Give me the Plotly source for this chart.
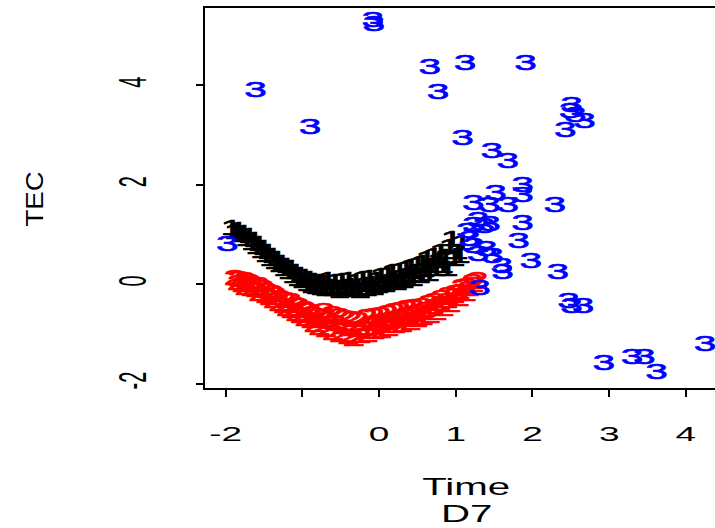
import plotly.graph_objects as go

# Group 1 (black "1")
g1_x = [-1.92, -1.88, -1.84, -1.80, -1.77, -1.73, -1.70, -1.66, -1.63, -1.60,
        -1.57, -1.54, -1.51, -1.48, -1.45, -1.42, -1.39, -1.36, -1.33, -1.30,
        -1.27, -1.24, -1.21, -1.18, -1.15, -1.12, -1.09, -1.06, -1.03, -1.00,
        -0.97, -0.94, -0.91, -0.88, -0.85, -0.82, -0.79, -0.76, -0.73, -0.70,
        -0.67, -0.64, -0.61, -0.58, -0.55, -0.52, -0.49, -0.46, -0.43, -0.40,
        -0.37, -0.34, -0.31, -0.28, -0.25, -0.22, -0.19, -0.16, -0.13, -0.10,
        -0.07, -0.04, -0.01, 0.02, 0.05, 0.08, 0.11, 0.14, 0.17, 0.20,
        0.23, 0.26, 0.29, 0.32, 0.35, 0.38, 0.41, 0.44, 0.47, 0.50,
        0.53, 0.56, 0.59, 0.62, 0.65, 0.68, 0.71, 0.74, 0.77, 0.80,
        0.83, 0.86, 0.89, 0.92, 0.95, 0.98, 1.02, 1.05, 1.08]
g1_y = [1.10, 1.02, 1.06, 0.96, 1.00, 0.88, 0.93, 0.80, 0.86, 0.72,
        0.78, 0.64, 0.70, 0.56, 0.62, 0.48, 0.54, 0.42, 0.47, 0.36,
        0.40, 0.28, 0.34, 0.22, 0.30, 0.14, 0.22, 0.08, 0.16, 0.04,
        0.12, -0.02, 0.08, -0.06, 0.04, -0.08, 0.02, -0.10, 0.00, -0.12,
        0.05, -0.08, -0.14, 0.02, -0.10, -0.16, 0.03, -0.08, -0.15, 0.06,
        -0.06, -0.14, 0.02, -0.10, -0.16, 0.08, -0.04, -0.12, 0.10, -0.02,
        -0.10, 0.06, -0.06, 0.14, 0.00, -0.04, 0.16, 0.04, 0.22, 0.08,
        0.00, 0.24, 0.12, 0.04, 0.28, 0.16, 0.32, 0.08, 0.22, 0.36,
        0.14, 0.40, 0.26, 0.48, 0.18, 0.34, 0.54, 0.28, 0.44, 0.62,
        0.34, 0.52, 0.28, 0.72, 0.88, 0.48, 0.62, 0.54, 0.80]

# Group 2 (red "2")
g2_x = [-1.88, -1.84, -1.83, -1.78, -1.75, -1.74, -1.69, -1.66, -1.65, -1.60,
        -1.57, -1.56, -1.51, -1.47, -1.46, -1.42, -1.39, -1.37, -1.35, -1.30,
        -1.29, -1.24, -1.22, -1.20, -1.15, -1.14, -1.09, -1.08, -1.05, -1.02,
        -0.97, -0.96, -0.93, -0.88, -0.87, -0.84, -0.81, -0.78, -0.73, -0.72,
        -0.69, -0.66, -0.61, -0.60, -0.57, -0.52, -0.51, -0.48, -0.45, -0.40,
        -0.39, -0.36, -0.33, -0.28, -0.27, -0.24, -0.21, -0.16, -0.15, -0.12,
        -0.07, -0.06, -0.03, 0.02, 0.03, 0.06, 0.11, 0.12, 0.15, 0.20,
        0.21, 0.26, 0.27, 0.30, 0.35, 0.36, 0.41, 0.42, 0.45, 0.50,
        0.51, 0.56, 0.57, 0.60, 0.65, 0.66, 0.71, 0.72, 0.75, 0.80,
        0.81, 0.84, 0.89, 0.90, 0.93, 0.98, 0.99, 1.04, 1.05, 1.08,
        1.13, 1.14, 1.17, 1.22, 1.23, 1.28]
g2_y = [0.10, 0.00, 0.07, -0.05, 0.05, -0.10, 0.02, -0.13, -0.03, -0.15,
        -0.05, -0.24, -0.11, -0.27, -0.17, -0.31, -0.21, -0.37, -0.25, -0.43,
        -0.31, -0.47, -0.35, -0.53, -0.38, -0.57, -0.46, -0.63, -0.47, -0.67,
        -0.53, -0.73, -0.58, -0.77, -0.63, -0.85, -0.67, -0.91, -0.69, -0.57,
        -0.95, -0.75, -0.63, -1.01, -0.81, -0.67, -1.05, -0.89, -0.71, -1.09,
        -0.93, -0.73, -1.13, -0.95, -0.75, -1.07, -0.91, -0.69, -1.05, -0.83,
        -0.67, -0.99, -0.81, -0.65, -0.97, -0.77, -0.61, -0.93, -0.75, -0.57,
        -0.87, -0.71, -0.55, -0.85, -0.67, -0.51, -0.81, -0.63, -0.49, -0.75,
        -0.59, -0.47, -0.71, -0.55, -0.41, -0.67, -0.49, -0.37, -0.61, -0.43,
        -0.31, -0.53, -0.37, -0.25, -0.45, -0.27, -0.21, -0.33, -0.19, -0.09,
        -0.23, -0.07, -0.13, 0.01, -0.05, 0.05]

# Group 3 (blue "3")
g3_x = [-0.08, -0.07, -1.61, -0.90, 0.66, 1.12, 0.77, 1.91, -1.98, 1.09,
        1.47, 1.68, 2.51, 2.49, 2.68, 2.43, 2.56, 1.87, 1.87, 1.52,
        2.29, 1.23, 1.44, 1.68, 1.87, 1.23, 1.37, 1.15, 1.44, 1.29,
        1.82, 1.23, 1.40, 1.29, 1.48, 1.98, 1.60, 2.33, 1.61, 1.31,
        2.47, 2.51, 2.66, 2.93, 3.30, 3.46, 3.62, 4.25, 1.18]
g3_y = [5.27, 5.19, 3.88, 3.12, 4.34, 4.42, 3.84, 4.42, 0.78, 2.91,
        2.65, 2.45, 3.56, 3.44, 3.24, 3.06, 3.36, 1.97, 1.77, 1.81,
        1.55, 1.59, 1.55, 1.55, 1.19, 1.15, 1.13, 1.03, 1.17, 1.25,
        0.84, 0.74, 0.68, 0.58, 0.54, 0.44, 0.34, 0.22, 0.22, -0.10,
        -0.38, -0.48, -0.48, -1.61, -1.49, -1.49, -1.79, -1.23, 0.88]

x_tickvals = [-2, -1, 0, 1, 2, 3, 4]
x_ticktext = ["-2", "", "0", "1", "2", "3", "4"]
y_tickvals = [-2, 0, 2, 4]
y_ticktext = ["-2", "0", "2", "4"]

FONT = "Liberation Sans, Arial, sans-serif"

fig = go.Figure()
for xs, ys, label, color in [(g1_x, g1_y, "1", "#000000"),
                             (g2_x, g2_y, "2", "#ff0000"),
                             (g3_x, g3_y, "3", "#0000ff")]:
    fig.add_trace(go.Scatter(
        x=xs, y=ys, mode="text", text=[label] * len(xs),
        textposition="middle center",
        textfont=dict(family=FONT, size=22, color=color),
        hoverinfo="skip", showlegend=False,
    ))

axis_common = dict(
    showgrid=False, zeroline=False, showline=True, linecolor="black",
    linewidth=2, ticks="outside", ticklen=7, tickwidth=1.5,
    tickcolor="black", tickfont=dict(family=FONT, size=20, color="black"),
)

fig.update_layout(
    width=715, height=528,
    margin=dict(l=205, r=0, t=8, b=140),
    paper_bgcolor="white", plot_bgcolor="white",
    xaxis=dict(range=[-2.27, 4.38], tickmode="array", tickvals=x_tickvals,
               ticktext=x_ticktext, mirror=True, ticklabelstandoff=20,
               **axis_common),
    yaxis=dict(range=[-2.09, 5.55], tickmode="array", tickvals=y_tickvals,
               ticktext=y_ticktext, tickangle=-90, ticklabelstandoff=48,
               **axis_common),
    annotations=[
        dict(text="TEC", xref="paper", yref="paper", x=(35 - 205) / 510,
             y=(388 - 199) / 380, xanchor="center", yanchor="middle",
             textangle=-90, showarrow=False,
             font=dict(family=FONT, size=23, color="black")),
        dict(text="Time", xref="paper", yref="paper", x=(466 - 205) / 510,
             y=(388 - 487) / 380, xanchor="center", yanchor="middle",
             showarrow=False, font=dict(family=FONT, size=23, color="black")),
        dict(text="D7", xref="paper", yref="paper", x=(466 - 205) / 510,
             y=(388 - 514) / 380, xanchor="center", yanchor="middle",
             showarrow=False, font=dict(family=FONT, size=23, color="black")),
    ],
)

# widen glyphs horizontally about their own centres; thicken point labels
stretch_js = """
var gd = document.getElementById('{plot_id}');
function widen(t, s) {
  var r = t.getBoundingClientRect();
  var cx = r.left + r.width / 2, cy = r.top + r.height / 2;
  var m = t.parentNode.getScreenCTM().inverse();
  var px = m.a * cx + m.c * cy + m.e;
  var old = t.getAttribute('transform') || '';
  t.setAttribute('transform', 'translate(' + px + ',0) scale(' + s + ',1) translate(' + (-px) + ',0) ' + old);
}
gd.querySelectorAll('.textpoint text').forEach(function(t){
  widen(t, 1.85);
  t.style.stroke = t.style.fill;
  t.style.strokeWidth = '0.6px';
});
gd.querySelectorAll('.xtick text').forEach(function(t){ widen(t, 1.85); });
gd.querySelectorAll('.ytick text').forEach(function(t){ widen(t, 1.9); });
gd.querySelectorAll('.annotation-text').forEach(function(t){
  widen(t, t.textContent === 'TEC' ? 1.2 : 1.75);
});
"""

fig.write_html("out.html", post_script=stretch_js)
